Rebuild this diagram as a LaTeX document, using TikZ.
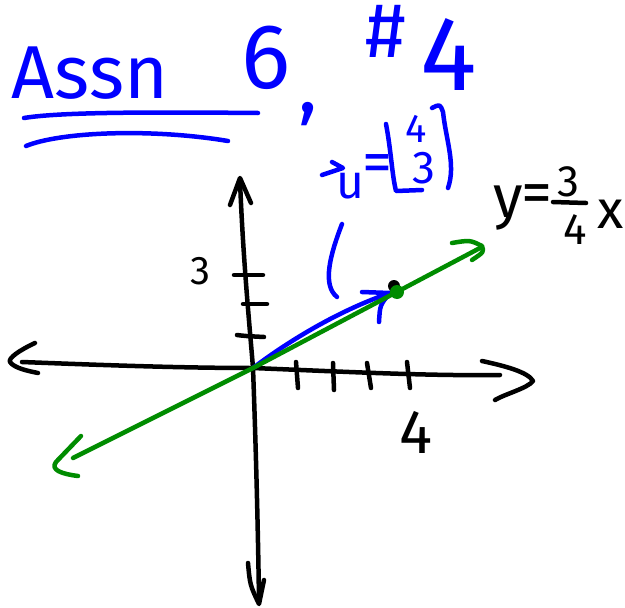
\documentclass[tikz,border=0pt]{standalone}
\usepackage{fontspec}
\setmainfont{Fira Sans}
\definecolor{pblue}{RGB}{0,0,255}
\definecolor{pgreen}{RGB}{0,140,0}
\begin{document}
\begin{tikzpicture}[x=1pt,y=-1pt,
  pen/.style={line width=4.5pt,line cap=round,line join=round},
  ink/.style={pen,draw=black},
  bink/.style={pen,draw=pblue},
  gink/.style={pen,draw=pgreen},
  lbl/.style={inner sep=0pt,outer sep=0pt},
  blbl/.style={lbl,text=pblue}]
\useasboundingbox[fill=white] (0,0) rectangle (625,608);

% --- title ---
\node[blbl,anchor=base west,font=\fontsize{75}{80}\selectfont] (assn) at (12,98) {Assn};
\node[blbl,anchor=base,font=\fontsize{92}{96}\selectfont] (six) at (266,88) {6};
\node[blbl,anchor=base,font=\fontsize{80}{86}\selectfont] (comma) at (308,112) {,};
\node[blbl,font=\fontsize{78}{82}\selectfont] (hash) at (386,31) {\#};
\node[blbl,font=\fontsize{106}{110}\selectfont] (four) at (449,55) {4};
\draw[bink] (24,118) .. controls (60,112) and (150,112) .. (258,113);
\draw[bink] (26,146) .. controls (60,132) and (150,128) .. (228,141);

% --- vector label  u = [4;3] ---
\node[blbl,font=\fontsize{48}{52}\selectfont] (u) at (350,186) {u};
\draw[bink] (322,175) -- (343,168) -- (332,162);
\node[blbl,font=\fontsize{60}{64}\selectfont] (ueq) at (377,169) {=};
\node[blbl,font=\fontsize{40}{44}\selectfont] (u4) at (416,129) {4};
\node[blbl,font=\fontsize{46}{50}\selectfont] (u3) at (424,168) {3};
\draw[bink] (386,124) .. controls (391,150) and (392,175) .. (396,191) -- (422,190);
\draw[bink] (432,108) .. controls (440,104) .. (443,112) .. controls (446,140) and (456,165) .. (448,188);
\draw[bink] (342,224) .. controls (330,255) and (322,285) .. (337,297);

% --- line label ---
\node[lbl,font=\fontsize{60}{64}\selectfont] (ly) at (508,208) {y};
\node[lbl,font=\fontsize{62}{66}\selectfont] (leq) at (537,199) {=};
\node[lbl,font=\fontsize{44}{48}\selectfont] (lnum) at (568,182) {3};
\node[lbl,font=\fontsize{44}{48}\selectfont] (lden) at (575,230) {4};
\draw[ink] (553,202) -- (586,203);
\node[lbl,font=\fontsize{54}{58}\selectfont] (lx) at (611,214) {x};

% --- axes ---
\coordinate (O) at (253,368);
\coordinate (xle) at (22,362);
\coordinate (xre) at (500,375);
\coordinate (yte) at (240,180);
\coordinate (ybe) at (259,600);
\draw[ink] (xle) .. controls (100,365) and (180,368) .. (O) .. controls (350,372) and (430,376) .. (xre);
\draw[ink] (yte) .. controls (243,260) and (250,330) .. (O) .. controls (256,450) and (258,530) .. (ybe);
% arrow heads
\draw[ink] (35,343) .. controls (20,350) and (8,358) .. (10,362) .. controls (14,368) and (28,371) .. (38,373);
\draw[ink] (482,361) .. controls (505,366) and (528,372) .. (533,381) .. controls (528,388) and (505,394) .. (495,400);
\draw[ink] (230,205) -- (240,178) -- (251,203);
\draw[ink] (248,563) .. controls (250,585) .. (259,604) -- (264,580);
% ticks
\draw[ink] (296,362) -- (298,388);
\draw[ink] (333,363) -- (334,390);
\draw[ink] (367,363) -- (371,388);
\draw[ink] (407,362) -- (410,388);
\draw[ink] (234,275) -- (263,275);
\draw[ink] (243,304) -- (267,304);
\draw[ink] (237,335) .. controls (245,336) .. (264,337);
\node[lbl,font=\fontsize{40}{44}\selectfont] (t3) at (200,271) {3};
\node[lbl,font=\fontsize{62}{66}\selectfont] (t4) at (416,432) {4};

% --- vector u ---
\coordinate (vt) at (390,293);
\draw[bink] (O) .. controls (290,340) and (340,310) .. (vt);
\draw[bink] (362,292) -- (vt);
\draw[bink] (379,322) .. controls (380,305) .. (vt);

% --- line y = 3/4 x ---
\coordinate (gle) at (73,458);
\coordinate (gre) at (480,248);
\draw[gink] (gle) -- (O) -- (gre);
\draw[gink] (81,436) -- (56,462) .. controls (50,470) and (62,474) .. (78,476);
\draw[gink] (452,243) .. controls (470,240) .. (482,246) .. controls (484,252) .. (472,260);

% --- point ---
\fill[black] (394,286) circle (6);
\node[circle,fill=pgreen,minimum size=14pt,inner sep=0pt] (P) at (397,292) {};
\end{tikzpicture}
\end{document}
